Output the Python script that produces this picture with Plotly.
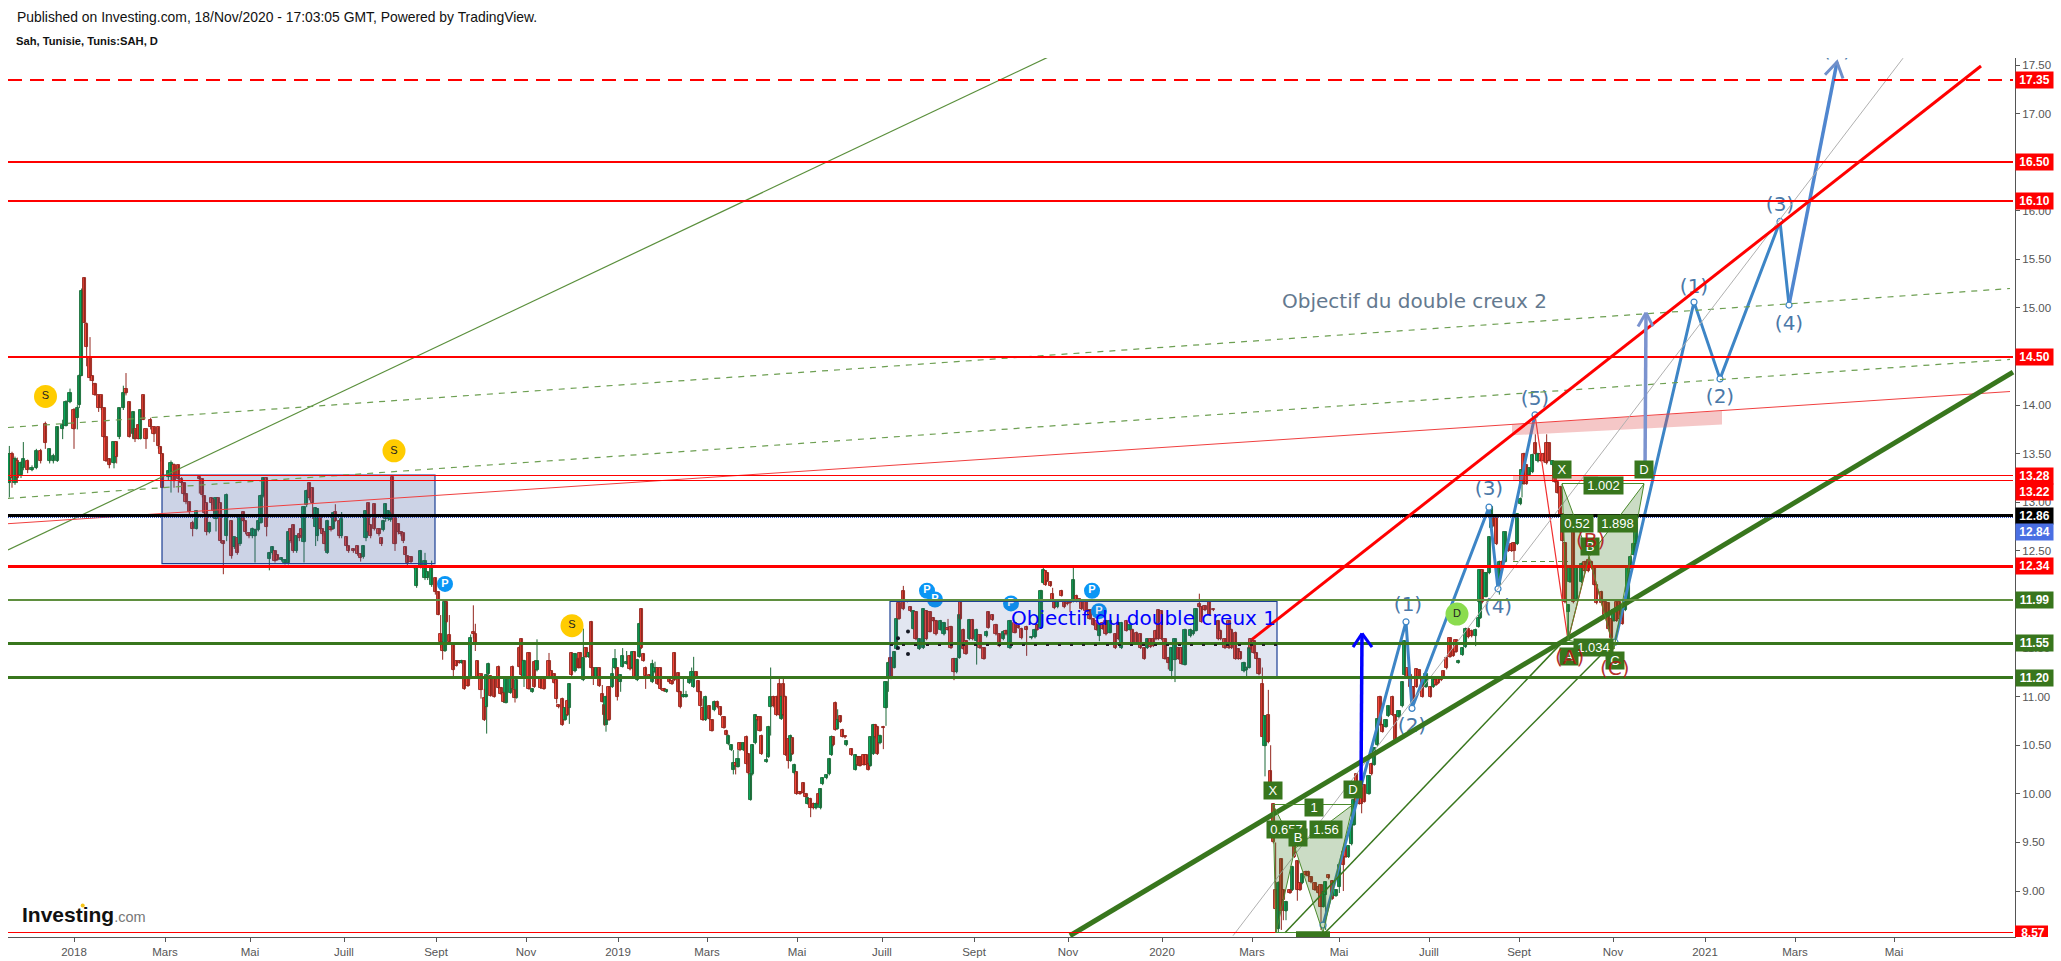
import plotly.graph_objects as go

# ---------- axes ----------
PRICE_RANGE = [8.527, 17.572]
POS_RANGE = [0, 2007]
price_ticks = [9, 9.5, 10, 10.5, 11, 11.5, 12, 12.5, 13, 13.5, 14, 14.5, 15, 15.5, 16, 16.5, 17, 17.5]
time_ticks = [66, 157, 242, 336, 428, 518, 610, 699, 789, 874, 966, 1060, 1154, 1244, 1331, 1421, 1511, 1605, 1697, 1787, 1886]
time_labels = ["2018", "Mars", "Mai", "Juill", "Sept", "Nov", "2019", "Mars", "Mai", "Juill", "Sept", "Nov", "2020", "Mars", "Mai", "Juill", "Sept", "Nov", "2021", "Mars", "Mai"]

# ---------- candles, in six stretches; time as read, origin + t / 3 on the time axis ----------
seg_origin = [-8, -8, 392, 872, 1232, 1392]

s1_t = [28,36,45,52,63,70,83,96,109,122,136,149,160,172,188,198,210,222,232,238,245,253,260,270,278,285,296,304,312,318,328,342,350,358,370,378,388,400,405,415,422,430,438,452,462,475,482,488]
s1_open = [13.20,13.50,13.20,13.42,13.28,13.35,13.42,13.33,13.35,13.53,
13.81,13.42,13.42,13.42,13.75,13.79,14.03,13.95,13.87,14.00,
14.30,15.31,14.83,14.50,14.30,14.22,14.10,14.10,13.97,13.67,
13.45,13.40,13.62,13.67,13.97,14.17,14.03,13.70,13.75,13.80,
13.65,14.10,13.75,13.85,13.77,13.77,13.57,13.50]
s1_high = [13.58,13.52,13.47,13.46,13.42,13.62,13.44,13.38,13.55,13.55,
13.83,13.55,13.50,13.78,13.85,14.05,14.17,13.97,14.00,14.32,
15.20,15.31,14.85,14.70,14.30,14.23,14.10,14.10,13.97,13.67,
13.45,13.62,13.62,13.97,14.20,14.33,14.03,13.93,13.75,13.80,
13.95,14.10,13.75,13.87,13.78,13.77,13.58,13.50]
s1_low = [13.05,13.15,13.18,13.20,13.25,13.33,13.30,13.32,13.34,13.40,
13.55,13.40,13.40,13.42,13.65,13.78,14.02,13.55,13.75,13.97,
14.30,14.85,14.40,14.25,14.20,14.10,13.93,13.95,13.67,13.42,
13.35,13.35,13.40,13.65,13.95,14.10,13.67,13.65,13.62,13.65,
13.65,13.85,13.55,13.75,13.62,13.55,13.42,13.15]
s1_close = [13.50,13.25,13.45,13.25,13.40,13.45,13.33,13.35,13.53,13.43,
13.61,13.55,13.48,13.77,13.80,14.03,14.13,13.75,13.97,14.30,
15.17,14.85,14.60,14.28,14.25,14.10,13.97,13.97,13.67,13.42,
13.38,13.62,13.47,13.97,14.13,14.12,13.67,13.93,13.65,13.65,
13.95,13.85,13.65,13.78,13.70,13.58,13.50,13.15]

s2_t = [505,513,522,535,545,552,558,568,578,590,598,607,613,620,628,635,642,648,655,662,670,680,695,703,712,720,730,737,747,757,765,775,783,790,800,808,817,825,833,845,855,865,873,880,890,898,905,912,920,928,938,947,953,961,968,975,982,993,1000,1006,1018,1025,1040,1046,1060,1073,1082,1090,1098,1105,1112,1123,1137,1145,1150,1157,1165,1172,1177,1185,1195,1203,1210,1217,1222,1233,1243,1250,1262,1275,1283,1295,1306]
s2_open = [13.26,13.26,13.38,13.38,13.24,13.20,13.09,13.00,12.79,12.73,
13.26,13.24,13.07,12.99,12.69,13.04,13.03,12.83,13.04,12.99,
12.60,12.65,12.81,12.54,12.63,12.57,12.90,12.81,12.68,12.65,
12.65,12.71,12.79,13.07,13.25,12.42,12.48,12.50,12.46,12.41,
12.38,12.38,12.73,12.77,12.50,12.67,12.73,12.59,12.97,13.20,
13.15,12.75,12.65,12.85,12.73,12.69,12.48,12.75,12.73,12.90,
12.81,12.65,12.64,12.55,12.52,12.55,12.47,12.44,12.63,12.99,
12.77,12.98,12.73,12.63,12.72,12.83,12.83,12.82,13.26,12.86,
12.78,12.69,12.68,12.54,12.45,12.44,12.32,12.14,12.33,12.22,
12.22,12.15,12.22]
s2_high = [13.33,13.43,13.40,13.38,13.26,13.20,13.09,13.00,12.81,12.92,
13.28,13.24,13.07,12.99,12.80,13.05,13.03,13.05,13.04,12.99,
12.60,13.09,12.81,12.64,12.63,12.86,12.90,12.81,12.68,12.74,
12.73,12.82,13.08,13.26,13.26,12.49,12.55,12.50,12.46,12.43,
12.41,12.70,12.73,12.77,12.65,12.67,12.73,12.96,13.13,13.20,
13.15,12.95,12.94,12.85,12.73,12.69,12.82,12.75,12.90,12.98,
12.81,12.90,12.64,12.55,12.52,12.55,12.47,12.56,12.92,12.99,
12.77,12.98,12.73,12.63,12.82,12.99,12.92,12.90,13.26,12.86,
12.78,12.69,12.68,12.54,12.45,12.44,12.34,12.34,12.51,12.48,
12.28,12.40,12.22]
s2_low = [13.22,13.10,13.15,13.10,13.18,13.07,12.98,12.88,12.65,12.72,
13.09,13.05,12.87,12.66,12.68,12.97,12.89,12.70,12.89,12.58,
12.26,12.60,12.42,12.52,12.46,12.55,12.80,12.67,12.63,12.63,
12.38,12.70,12.78,13.05,12.65,12.30,12.46,12.38,12.40,12.39,
12.36,12.36,12.58,12.48,12.48,12.60,12.63,12.38,12.95,13.02,
12.83,12.55,12.60,12.71,12.65,12.50,12.47,12.70,12.72,12.80,
12.63,12.63,12.53,12.48,12.48,12.45,12.39,12.42,12.60,12.66,
12.63,12.71,12.65,12.55,12.70,12.80,12.81,12.80,12.83,12.50,
12.67,12.65,12.58,12.44,12.34,12.37,12.31,12.12,12.32,12.20,
12.20,12.13,12.05]
s2_close = [13.32,13.40,13.22,13.24,13.20,13.09,13.00,12.90,12.73,12.91,
13.24,13.08,12.89,12.69,12.79,12.99,12.91,13.04,12.91,12.60,
12.57,13.08,12.45,12.64,12.48,12.85,12.81,12.69,12.65,12.73,
12.72,12.81,13.07,13.25,12.75,12.48,12.54,12.40,12.41,12.43,
12.41,12.69,12.60,12.50,12.65,12.63,12.65,12.95,13.12,13.04,
12.99,12.94,12.93,12.73,12.67,12.57,12.81,12.72,12.89,12.81,
12.65,12.83,12.55,12.50,12.50,12.47,12.43,12.55,12.91,12.69,
12.65,12.73,12.67,12.57,12.81,12.98,12.91,12.89,12.85,12.57,
12.69,12.67,12.60,12.46,12.38,12.39,12.34,12.33,12.50,12.40,
12.28,12.34,12.08]

s3_t = [115,122,128,135,140,148,160,170,178,185,193,204,212,220,226,233,243,253,260,265,272,283,296,303,312,318,332,338,345,350,358,364,372,387,397,403,411,422,432,447,455,463,470,476,487,495,503,508,515,525,535,540,550,558,566,574,580,590,598,607,613,618,627,637,645,652,662,668,680,690,697,704,712,718,724,731,737,748,757,765,772,782,792,800,808,816,824,835,841,850,858,868,875,881,889,895,902,909,917,928,936,943,952,962,972,979,985,994,1000,1007,1014,1020,1030,1040,1045,1052,1058,1066,1073,1080,1085,1100,1106,1112,1120,1130,1138,1144,1150,1157,1165,1172,1178,1183,1190,1200,1210,1218,1223,1232,1240,1248,1255,1262,1268,1280,1288,1295,1300,1306,1313,1321,1328,1335,1339,1355,1367,1374,1380,1392,1400,1405,1412,1420,1426,1432,1440,1450,1458,1465,1473,1483,1490,1497]
s3_open = [12.08,11.65,11.56,11.47,11.97,11.63,11.55,11.37,11.37,11.35,
11.37,11.19,11.19,11.66,11.65,11.37,11.23,10.99,10.89,11.23,
11.21,11.19,11.31,11.09,11.04,10.94,11.04,11.31,11.07,10.99,
11.50,11.59,11.19,11.45,11.05,11.36,11.27,11.19,11.19,11.37,
11.26,11.23,11.17,10.91,10.98,10.76,10.96,10.88,11.45,11.26,
11.39,11.45,11.17,11.50,11.41,11.77,11.29,11.20,11.29,11.03,
10.91,10.71,11.10,11.10,11.29,11.29,11.15,11.31,11.34,11.42,
11.29,11.46,11.17,11.41,11.90,11.44,11.30,11.22,11.15,11.25,
11.29,11.29,11.08,11.05,11.20,11.16,11.45,11.24,11.05,11.00,
11.00,11.14,11.17,11.10,11.25,11.16,11.05,10.88,10.76,10.90,
10.76,10.86,10.95,10.89,10.79,10.65,10.51,10.45,10.25,10.32,
10.28,10.52,10.45,10.59,10.41,9.94,10.20,10.52,10.79,10.79,
10.60,10.33,10.38,10.89,11.00,11.00,11.13,10.77,11.13,11.00,
10.56,10.34,10.57,10.21,10.22,10.02,10.11,10.00,9.90,9.95,
9.90,9.85,10.00,9.85,10.10,10.16,10.20,10.40,10.58,10.94,
10.67,10.80,10.66,10.59,10.50,10.46,10.25,10.38,10.38,10.40,
10.40,10.31,10.29,10.41,10.71,10.69,10.52,10.69,10.88,11.20,
11.40,11.30,11.49,11.96]
s3_high = [12.08,11.84,11.56,11.98,11.97,11.84,11.55,11.37,11.37,11.38,
11.37,11.20,11.64,11.94,11.75,11.37,11.23,11.08,11.23,11.35,
11.22,11.19,11.32,11.10,11.05,11.20,11.20,11.32,11.08,11.18,
11.52,11.60,11.38,11.46,11.09,11.37,11.59,11.20,11.20,11.45,
11.27,11.24,11.18,10.92,10.99,10.89,10.97,11.14,11.46,11.45,
11.40,11.46,11.70,11.51,11.46,11.78,11.30,11.30,11.30,11.12,
10.92,11.01,11.11,11.30,11.49,11.30,11.23,11.50,11.47,11.43,
11.47,11.47,11.39,11.76,11.91,11.45,11.31,11.23,11.38,11.36,
11.30,11.30,11.09,11.08,11.21,11.17,11.46,11.25,11.06,11.20,
11.06,11.21,11.30,11.41,11.26,11.17,11.06,10.98,11.01,10.91,
10.77,10.96,10.96,10.90,10.80,10.66,10.61,10.51,10.45,10.33,
10.45,10.53,10.53,10.60,10.42,10.21,10.51,10.82,10.80,10.80,
10.61,10.42,10.70,11.30,11.01,11.01,11.20,11.01,11.20,11.01,
10.57,10.61,10.58,10.31,10.23,10.03,10.12,10.01,9.97,9.96,
9.91,9.91,10.01,10.06,10.17,10.20,10.37,10.60,10.59,10.95,
10.87,10.81,10.67,10.60,10.55,10.47,10.41,10.39,10.39,10.41,
10.41,10.32,10.59,10.72,10.72,10.70,10.61,10.70,11.16,11.36,
11.41,11.47,11.81,11.97]
s3_low = [11.84,11.50,11.38,11.46,11.76,11.55,11.20,11.31,11.34,11.34,
11.07,11.10,11.18,11.60,11.47,11.19,10.98,10.75,10.62,11.22,
11.00,10.99,11.08,11.02,10.94,10.93,11.03,11.07,10.94,10.98,
11.30,11.21,11.10,11.07,11.04,11.09,11.26,11.08,11.07,11.18,
11.18,11.13,10.93,10.88,10.70,10.75,10.80,10.72,11.21,11.25,
11.29,11.29,11.16,11.40,11.40,11.29,11.12,11.19,11.10,10.94,
10.70,10.64,10.75,11.09,11.28,10.96,11.05,11.30,11.33,11.27,
11.28,11.19,11.16,11.40,11.49,11.36,11.08,11.19,11.14,11.24,
11.12,11.07,11.05,11.04,11.14,11.12,11.16,11.04,10.88,10.99,
10.99,11.13,11.16,11.09,11.19,11.04,10.89,10.75,10.75,10.76,
10.64,10.85,10.88,10.80,10.67,10.60,10.50,10.44,10.20,10.20,
10.27,10.44,10.44,10.30,10.20,9.93,10.19,10.51,10.75,10.64,
10.40,10.32,10.37,10.60,10.89,10.80,10.80,10.76,10.80,10.39,
10.26,10.33,10.40,10.20,9.99,9.99,10.00,9.96,9.89,9.76,
9.84,9.84,9.89,9.84,10.09,10.15,10.19,10.39,10.49,10.65,
10.66,10.73,10.58,10.57,10.49,10.39,10.24,10.29,10.28,10.29,
10.29,10.24,10.28,10.40,10.57,10.40,10.51,10.46,10.70,11.05,
11.18,11.29,11.48,11.79]
s3_close = [11.84,11.56,11.47,11.97,11.77,11.56,11.27,11.32,11.35,11.37,
11.08,11.11,11.60,11.65,11.55,11.20,11.07,10.76,11.22,11.34,
11.01,11.00,11.09,11.03,10.95,11.19,11.19,11.08,10.99,11.17,
11.31,11.22,11.37,11.08,11.08,11.10,11.37,11.09,11.08,11.19,
11.19,11.14,10.98,10.89,10.71,10.88,10.81,11.13,11.22,11.44,
11.30,11.30,11.40,11.41,11.45,11.30,11.19,11.29,11.11,10.95,
10.81,11.00,10.76,11.23,11.39,11.00,11.22,11.42,11.36,11.28,
11.46,11.20,11.38,11.75,11.50,11.37,11.21,11.20,11.34,11.30,
11.13,11.08,11.06,11.07,11.15,11.13,11.17,11.05,10.89,11.02,
11.02,11.20,11.25,11.25,11.20,11.05,10.90,10.76,11.00,10.77,
10.65,10.95,10.89,10.81,10.68,10.61,10.60,10.50,10.32,10.29,
10.36,10.45,10.52,10.31,10.21,10.20,10.50,10.81,10.76,10.65,
10.41,10.35,10.69,11.00,10.90,10.81,10.81,11.00,10.81,10.40,
10.34,10.60,10.41,10.30,10.00,10.00,10.01,9.97,9.96,9.85,
9.85,9.90,9.90,10.05,10.16,10.19,10.36,10.59,10.50,10.66,
10.76,10.74,10.59,10.58,10.54,10.40,10.40,10.30,10.29,10.30,
10.30,10.25,10.58,10.71,10.58,10.41,10.60,10.68,11.15,11.35,
11.19,11.46,11.80,11.80]

s4_t = [70,82,92,100,108,118,130,140,150,160,168,182,192,204,213,222,230,238,242,250,258,268,278,290,300,312,320,325,338,348,358,370,378,390,405,415,425,440,455,465,472,483,490,497,503,512,518,523,533,545,553,562,570,580,590,598,605,618,630,640,650,658,668,678,690,706,715,725,740,750,758,770,782,793,802,812,820,828,835,845,855,865,875,885,895,905,915,932,940,948,958,965,975,988,1000,1015,1022,1035,1047,1055,1067,1075,1082,1092,1100,1108,1113,1122,1130,1137,1147,1155,1165,1172]
s4_open = [12.09,11.99,11.92,11.70,11.87,11.49,11.50,11.88,11.87,11.81,
11.78,11.69,11.64,11.70,11.72,11.39,11.25,11.40,11.98,11.69,
11.57,11.59,11.79,11.57,11.63,11.50,11.62,11.87,11.84,11.74,
11.64,11.59,11.68,11.50,11.76,11.73,11.70,11.72,11.60,11.61,
11.74,11.71,12.17,12.29,12.27,12.18,12.06,11.99,11.92,12.09,
11.99,11.98,11.98,11.98,12.04,12.00,11.98,11.98,11.89,11.80,
11.78,11.62,11.76,11.78,11.66,11.64,11.76,11.50,11.78,11.69,
11.69,11.66,11.64,11.50,11.50,11.59,11.59,11.68,11.89,11.88,
11.59,11.40,11.26,11.38,11.50,11.50,11.33,11.62,11.64,11.68,
11.95,11.92,11.93,11.98,11.90,11.78,11.68,11.59,11.78,11.69,
11.66,11.49,11.46,11.26,11.27,11.30,11.59,11.57,11.45,11.39,
11.13,10.49,10.81,10.24]
s4_high = [12.14,12.00,11.93,11.89,11.88,11.60,11.91,11.89,11.88,11.82,
11.79,11.79,11.77,11.80,11.73,11.40,11.40,11.85,11.99,11.70,
11.58,11.80,11.80,11.70,11.64,11.51,11.68,11.88,11.85,11.75,
11.65,11.68,11.69,11.79,11.77,11.74,11.71,11.73,11.62,11.70,
11.75,12.10,12.33,12.30,12.28,12.19,12.12,12.00,12.00,12.10,
12.00,11.99,11.99,12.34,12.05,12.01,11.99,11.99,11.90,11.81,
11.79,11.75,11.77,11.79,11.79,11.65,11.77,11.77,11.79,11.75,
11.70,11.67,11.65,11.51,11.60,11.60,11.60,11.69,11.90,11.89,
11.60,11.41,11.51,11.60,11.51,11.51,11.70,11.70,11.69,11.91,
12.06,11.93,11.94,11.99,11.91,11.79,11.69,11.60,11.79,11.70,
11.67,11.50,11.47,11.36,11.31,11.51,11.60,11.58,11.46,11.40,
11.30,10.81,11.07,10.50]
s4_low = [11.89,11.97,11.87,11.69,11.58,11.48,11.49,11.58,11.66,11.77,
11.63,11.68,11.63,11.68,11.49,11.17,11.24,11.39,11.79,11.48,
11.43,11.58,11.58,11.33,11.49,11.38,11.61,11.70,11.78,11.63,
11.51,11.58,11.63,11.49,11.65,11.70,11.59,11.42,11.59,11.60,
11.68,11.70,12.16,12.14,12.18,12.13,11.98,11.90,11.91,12.03,
11.91,11.94,11.87,11.97,11.97,11.97,11.89,11.87,11.79,11.73,
11.68,11.57,11.69,11.63,11.65,11.49,11.58,11.49,11.67,11.68,
11.54,11.54,11.49,11.38,11.49,11.50,11.51,11.58,11.58,11.58,
11.38,11.28,11.18,11.15,11.38,11.33,11.32,11.61,11.63,11.67,
11.91,11.76,11.88,11.83,11.88,11.58,11.58,11.49,11.49,11.49,
11.38,11.38,11.38,11.25,11.20,11.29,11.48,11.44,11.38,11.22,
10.59,10.18,10.52,9.96]
s4_close = [11.90,11.98,11.88,11.88,11.59,11.59,11.90,11.59,11.67,11.78,
11.64,11.78,11.76,11.69,11.50,11.25,11.39,11.84,11.80,11.49,
11.44,11.79,11.59,11.69,11.50,11.39,11.67,11.71,11.79,11.64,
11.52,11.67,11.64,11.78,11.66,11.71,11.60,11.69,11.61,11.69,
11.69,12.09,12.30,12.15,12.19,12.14,11.99,11.91,11.99,12.04,
11.92,11.95,11.96,12.20,11.98,11.98,11.90,11.88,11.80,11.74,
11.69,11.74,11.70,11.64,11.78,11.50,11.59,11.76,11.68,11.74,
11.55,11.55,11.50,11.39,11.59,11.51,11.52,11.59,11.59,11.59,
11.39,11.35,11.50,11.59,11.39,11.34,11.69,11.69,11.68,11.90,
11.92,11.77,11.89,11.84,11.89,11.59,11.59,11.50,11.50,11.50,
11.39,11.39,11.39,11.35,11.30,11.50,11.49,11.45,11.39,11.23,
10.59,10.80,10.53,9.97]

s5_t = [100,107,115,124,130,138,150,157,163,172,180,187,198,205,213,225,235,243,250,257,266,277,288,298,310,318,326,335,342,350,358,365,373,387,395,403,412,420,428,438,445,458,466,477,487,494,503,512,520,530,537,548,558,572,580,588,596,604,610,620,630,640,648,655,668,677,685,695,707,716,722]
s5_open = [9.90,9.01,8.61,9.33,9.01,8.79,9.01,9.01,9.49,9.31,
9.08,9.08,9.20,9.20,9.14,9.08,9.04,9.06,8.84,8.96,
9.16,9.10,8.95,9.04,9.40,9.44,9.35,9.48,9.68,10.20,
10.08,10.07,10.09,10.00,10.31,10.30,10.50,11.00,10.71,10.69,
10.80,11.00,10.81,10.79,10.90,11.22,11.29,11.22,11.10,11.28,
11.27,11.19,11.10,11.10,11.10,11.17,11.19,11.20,11.26,11.40,
11.60,11.48,11.58,11.35,11.43,11.51,11.70,11.68,11.62,11.72,
11.81]
s5_high = [9.90,9.50,9.10,9.33,9.02,8.90,9.02,9.26,9.50,9.32,
9.09,9.19,9.21,9.21,9.15,9.09,9.05,9.07,9.00,9.10,
9.17,9.11,9.02,9.28,9.41,9.45,9.47,9.69,9.95,10.21,
10.09,10.08,10.10,10.19,10.32,10.48,10.78,11.01,10.72,10.77,
10.91,11.01,10.82,10.86,11.16,11.58,11.30,11.23,11.11,11.29,
11.28,11.20,11.24,11.11,11.21,11.18,11.20,11.21,11.27,11.41,
11.61,11.49,11.59,11.38,11.51,11.71,11.71,11.69,11.70,11.82,
12.01]
s5_low = [9.49,8.57,8.57,8.60,8.70,8.70,8.97,9.00,9.34,8.90,
9.00,9.07,9.15,9.14,9.08,9.00,8.97,8.60,8.83,8.60,
9.12,8.91,8.94,8.98,9.00,9.34,9.34,9.47,9.67,9.91,
9.89,9.80,9.91,9.99,10.19,10.29,10.49,10.70,10.63,10.68,
10.79,10.80,10.54,10.78,10.89,11.21,11.19,11.09,10.91,11.09,
11.18,10.99,11.09,10.99,11.09,11.11,11.13,11.16,11.19,11.28,
11.40,11.41,11.45,11.34,11.42,11.50,11.60,11.61,11.52,11.71,
11.80]
s5_close = [9.50,8.82,9.08,8.79,8.91,8.89,8.98,9.25,9.35,9.01,
9.01,9.18,9.16,9.15,9.09,9.01,8.98,8.84,8.99,9.09,
9.13,8.92,9.01,9.27,9.27,9.35,9.46,9.68,9.94,9.92,
9.90,9.90,9.92,10.18,10.20,10.47,10.77,10.71,10.64,10.76,
10.90,10.81,10.55,10.85,11.15,11.57,11.20,11.10,10.92,11.10,
11.19,11.00,11.23,11.00,11.20,11.12,11.14,11.17,11.20,11.29,
11.41,11.42,11.46,11.37,11.50,11.70,11.61,11.62,11.69,11.81,
12.00]

s6_t = [240,247,258,268,275,280,290,298,305,315,325,335,342,352,362,366,372,380,388,398,406,414,422,432,440,447,458,465,472,482,488,495,505,510,520,530,545,555,565,575,583,590,605,615,625,635,642,650,658,668,676,684,692,702,708]
s6_open = [11.97,12.30,12.03,12.27,12.74,12.86,12.84,12.15,12.39,12.39,
12.55,12.57,12.58,12.57,12.98,13.19,13.50,13.38,13.28,13.31,
13.61,13.42,13.50,13.50,13.61,13.61,13.38,13.40,13.21,13.16,
12.88,12.58,11.87,12.18,12.74,12.01,12.18,12.39,12.41,12.39,
12.32,12.15,12.08,11.97,11.96,11.80,11.78,11.97,11.97,11.90,
11.89,11.96,12.32,12.46,12.57]
s6_high = [12.31,12.31,12.28,12.65,12.96,12.87,12.85,12.40,12.40,12.70,
12.56,12.58,12.59,12.89,13.05,13.34,13.51,13.39,13.36,13.50,
13.70,13.51,13.51,13.51,13.70,13.62,13.43,13.41,13.22,13.17,
12.89,12.59,11.95,12.35,12.75,12.33,12.38,12.40,12.42,12.40,
12.33,12.16,12.09,11.98,11.97,11.81,11.90,11.98,11.98,11.91,
11.97,12.35,12.45,12.58,12.85]
s6_low = [11.96,11.96,12.02,12.26,12.73,12.75,12.56,12.05,12.28,12.38,
12.49,12.49,12.40,12.56,12.97,13.05,13.18,13.18,13.27,13.30,
13.49,13.41,13.42,13.41,13.39,13.42,13.37,13.20,13.09,12.85,
12.59,11.96,11.60,12.17,11.96,12.00,12.17,12.28,12.28,12.31,
12.14,11.95,11.95,11.83,11.69,11.50,11.77,11.77,11.79,11.74,
11.88,11.95,12.31,12.45,12.56]
s6_close = [12.30,11.97,12.27,12.64,12.95,12.76,12.57,12.39,12.29,12.69,
12.50,12.50,12.50,12.88,13.03,13.33,13.19,13.19,13.35,13.49,
13.50,13.50,13.43,13.42,13.40,13.43,13.42,13.21,13.10,12.86,
12.60,11.97,11.94,12.34,11.97,12.32,12.37,12.29,12.29,12.32,
12.15,11.96,11.96,11.84,11.70,11.60,11.89,11.78,11.80,11.75,
11.96,12.34,12.44,12.57,12.84]

# ---------- horizontal levels ----------
level_prices = [17.35, 16.50, 16.10, 14.50, 13.28, 13.22, 12.86, 12.34, 11.99, 11.55, 11.20, 8.57]
level_colors = ["#ff0000", "#ff0000", "#ff0000", "#ff0000", "#ff0000", "#ff0000", "#000000", "#ff0000", "#5f8f3f", "#38761d", "#38761d", "#ff0000"]
level_widths = [2, 2, 2, 2, 1, 1, 3, 3, 2, 3, 3, 1]
last_price = 12.84

# right-hand price tags: text, colour, shift off the level, in screen pixels
tag_prices = [17.35, 16.50, 16.10, 14.50, 13.28, 13.22, 12.86, 12.84, 12.34, 11.99, 11.55, 11.20]
tag_colors = ["#ff0000", "#ff0000", "#ff0000", "#ff0000", "#ff0000", "#ff0000", "#000000", "#4a6fe3", "#ff0000", "#38761d", "#38761d", "#38761d"]
tag_shift = [0, 0, 0, 0, -1, -11, 0, -14, 0, 0, 0, -1]

# ---------- trend lines (time, price) ----------
thin_green = [(0, 12.51), (1042, 17.59)]
dash_upper = [(0, 13.77), (2002, 15.20)]
dash_lower = [(0, 13.04), (2002, 14.47)]
thin_red = [(0, 12.78), (2002, 14.14)]
thick_red = [(1244, 11.59), (1973, 17.49)]
thick_green = [(1062, 8.54), (2005, 14.34)]
chan_a = [(1277, 8.57), (1558, 11.60)]
chan_b = [(1317, 8.57), (1595, 11.45)]
gray_line = [(1225, 8.54), (1895, 17.57)]

wave1_x = [1315, 1398, 1404, 1481, 1490, 1527]
wave1_y = [8.65, 11.77, 10.88, 12.95, 12.11, 13.90]
wave2_x = [1607, 1686, 1712, 1772, 1781]
wave2_y = [11.56, 15.06, 14.27, 15.89, 15.03]
wave2_tip = (1829, 17.53)
wave2_barbs = [(1817, 17.40), (1835, 17.36)]
wave_label_x = [1400, 1404, 1481, 1490, 1527, 1686, 1712, 1772, 1781]
wave_label_y = [11.93, 10.69, 13.13, 11.91, 14.05, 15.21, 14.07, 16.05, 14.82]
wave_label_t = ["(1)", "(2)", "(3)", "(4)", "(5)", "(1)", "(2)", "(3)", "(4)"]
wave_top_label = (1829, 17.53, "(5)")

arrow1 = [(1353, 10.09), (1354, 11.65)]
arrow1_barbs = [(1345, 11.51), (1364, 11.51)]
arrow2 = [(1637, 13.30), (1638, 14.95)]
arrow2_barbs = [(1630, 14.81), (1645, 14.81)]

# ---------- harmonic patterns (X, A, B, C, D) ----------
pat1 = [(1265, 9.89), (1268, 8.57), (1287, 9.44), (1315, 8.57), (1345, 9.89)]
pat2 = [(1554, 13.19), (1560, 11.58), (1581, 12.44), (1606, 11.49), (1636, 13.19)]
abc_line_x = [1527, 1560, 1581, 1606]
abc_line_y = [13.90, 11.58, 12.44, 11.49]
box_x = [1265, 1345, 1306, 1278, 1318, 1290, 1554, 1569, 1582, 1561, 1585, 1607, 1636, 1595, 1609]
box_y = [10.03, 10.04, 9.86, 9.63, 9.63, 9.55, 13.34, 12.78, 12.55, 11.41, 11.51, 11.37, 13.34, 13.17, 12.78]
box_t = ["X", "D", "1", "0.657", "1.56", "B", "X", "0.52", "B", "A", "1.034", "C", "D", "1.002", "1.898"]
abc_x = [1561, 1582, 1607]
abc_y = [11.41, 12.61, 11.29]
abc_t = ["(A)", "(B)", "(C)"]

# ---------- rectangles ----------
rect1 = (154, 427, 12.37, 13.28)
rect2 = (882, 1269, 11.20, 11.98)
pink_rect = (1505, 1590, 13.22, 13.28)
pink_band = [(1504, 13.80), (1714, 13.94), (1714, 13.80), (1504, 13.69)]

# ---------- badges ----------
s_x, s_y = [37.5, 386, 564], [14.09, 13.53, 11.73]
p_x, p_y = [437, 919, 927, 1003, 1084, 1091], [12.16, 12.09, 12.00, 11.96, 12.09, 11.88]
d_x, d_y = [1449], [11.85]
dot_x, dot_y = [890, 890, 900, 900], [11.60, 11.50, 11.67, 11.44]
logo_dot = (74.7, 8.85)

# ---------- figure ----------
x_all, o_all, h_all, l_all, c_all = [], [], [], [], []
segs = [(s1_t, s1_open, s1_high, s1_low, s1_close), (s2_t, s2_open, s2_high, s2_low, s2_close),
        (s3_t, s3_open, s3_high, s3_low, s3_close), (s4_t, s4_open, s4_high, s4_low, s4_close),
        (s5_t, s5_open, s5_high, s5_low, s5_close), (s6_t, s6_open, s6_high, s6_low, s6_close)]
for org, (t, o, h, l, c) in zip(seg_origin, segs):
    assert len(t) == len(o) == len(h) == len(l) == len(c), (org, len(t), len(o), len(h), len(l), len(c))
    x_all += [org + v / 3 for v in t]
    o_all += o; h_all += h; l_all += l; c_all += c

UP_FILL, UP_EDGE, DN_FILL, DN_EDGE = "#07ad5f", "#1c6a38", "#fb4a3c", "#93261e"
fig = go.Figure()
fig.add_trace(go.Candlestick(
    x=x_all, open=o_all, high=h_all, low=l_all, close=c_all, whiskerwidth=0,
    increasing=dict(fillcolor=UP_FILL, line=dict(color=UP_EDGE, width=1)),
    decreasing=dict(fillcolor=DN_FILL, line=dict(color=DN_EDGE, width=1)),
    showlegend=False, hoverinfo="skip"))
# the candle bodies are wider than the trace's own spacing rule allows, so they are laid on top as bars
fig.add_trace(go.Bar(
    x=x_all, base=[min(o, c) for o, c in zip(o_all, c_all)], y=[max(abs(c - o), 0.012) for o, c in zip(o_all, c_all)],
    width=3.1, showlegend=False, hoverinfo="skip",
    marker=dict(color=[UP_FILL if c >= o else DN_FILL for o, c in zip(o_all, c_all)],
                line=dict(color=[UP_EDGE if c >= o else DN_EDGE for o, c in zip(o_all, c_all)], width=0.9))))


def line_trace(pts, color, width, dash=None):
    fig.add_trace(go.Scatter(x=[p[0] for p in pts], y=[p[1] for p in pts], mode="lines",
                             line=dict(color=color, width=width, dash=dash), showlegend=False, hoverinfo="skip"))


shapes = []


def seg(pts, color, width, dash=None):
    (x0, y0), (x1, y1) = pts
    shapes.append(dict(type="line", xref="x", yref="y", x0=x0, y0=y0, x1=x1, y1=y1, layer="above",
                       line=dict(color=color, width=width, dash=dash)))


def poly(pts, fill, color=None, width=0):
    path = "M " + " L ".join(f"{x},{y}" for x, y in pts) + " Z"
    shapes.append(dict(type="path", path=path, xref="x", yref="y", layer="above", fillcolor=fill,
                       line=dict(color=color or "rgba(0,0,0,0)", width=width)))


def rect(r, fill, color=None, width=0):
    shapes.append(dict(type="rect", xref="x", yref="y", x0=r[0], x1=r[1], y0=r[2], y1=r[3], layer="above",
                       fillcolor=fill, line=dict(color=color or "rgba(0,0,0,0)", width=width)))


rect(rect1, "rgba(50,80,155,0.25)", "#1c3f94", 1.2)
rect(rect2, "rgba(50,80,155,0.14)", "#1c3f94", 1.2)
rect(pink_rect, "rgba(225,80,80,0.32)")
poly(pink_band, "rgba(225,80,80,0.32)")

seg(thin_green, "#5a8f3c", 1.2)
seg(dash_upper, "#6d9f52", 1.2, "6px,6px")
seg(dash_lower, "#6d9f52", 1.2, "6px,6px")
seg(thin_red, "#f04040", 1)
seg(gray_line, "#b0b0b0", 1)
seg(chan_a, "#38761d", 1.5)
seg(chan_b, "#38761d", 1.5)
seg(thick_green, "#38761d", 5)

for pr, col, w in zip(level_prices, level_colors, level_widths):
    dash = "14px,8px" if pr == 17.35 else None
    seg([(POS_RANGE[0], pr), (POS_RANGE[1] - 2, pr)], col, w, dash)
seg([(POS_RANGE[0], last_price), (POS_RANGE[1] - 2, last_price)], "#3050c8", 1, "1px,1px")
seg([(882, 11.53), (1269, 11.53)], "#222222", 2, "3px,9px")
seg([(1505, 12.39), (1560, 12.39)], "#5a8f3c", 1.2, "5px,4px")
seg(thick_red, "#ff0000", 3)

for pat in (pat1, pat2):
    X, A, B, C, D = pat
    poly([X, A, B], "rgba(56,118,29,0.26)", "#4b8a2c", 1)
    poly([B, C, D], "rgba(56,118,29,0.26)", "#4b8a2c", 1)
    seg([X, D], "#4b8a2c", 1)
    seg([A, C], "#4b8a2c", 1)
rect((1288, 1322, PRICE_RANGE[0], 8.585), "#38761d")

# wave paths sit under their pivot circles
line_trace(list(zip(wave1_x, wave1_y)), "#3d85c6", 3)
line_trace(list(zip(wave2_x, wave2_y)), "#3d85c6", 3)
line_trace([(wave2_x[-1], wave2_y[-1]), wave2_tip], "#4f86cf", 3.5)
line_trace([wave2_barbs[0], wave2_tip, wave2_barbs[1]], "#6f8fca", 3)
line_trace(list(zip(abc_line_x, abc_line_y)), "#f03030", 1.2)

seg(arrow1, "#0000ff", 3.5)
seg([arrow1_barbs[0], arrow1[1]], "#0000ff", 3)
seg([arrow1_barbs[1], arrow1[1]], "#0000ff", 3)
seg(arrow2, "#7b93cf", 3.5)
seg([arrow2_barbs[0], arrow2[1]], "#7b93cf", 3)
seg([arrow2_barbs[1], arrow2[1]], "#7b93cf", 3)

# 8.57 tag is cut by the axis, so it is a shape with its text on top
shapes.append(dict(type="rect", xref="paper", yref="y", x0=1, x1=1 + 33 / 2007, y0=PRICE_RANGE[0], y1=8.645,
                   fillcolor="#ff0000", line=dict(width=0), layer="above"))

annots = []


def px_ann(text, px, py, **kw):
    annots.append(dict(text=text, xref="paper", yref="paper", x=(px - 8) / 2007, y=1 - (py - 58) / 879,
                       showarrow=False, **kw))


px_ann("Published on Investing.com, 18/Nov/2020 - 17:03:05 GMT, Powered by TradingView.", 15, 17,
       xanchor="left", yanchor="middle", font=dict(family="Liberation Sans", size=13.9, color="#111111"))
px_ann("<b>Sah, Tunisie, Tunis:SAH, D</b>", 14, 41, xanchor="left", yanchor="middle",
       font=dict(family="Liberation Sans", size=11.2, color="#111111"))
px_ann("<b>Investing</b><span style='color:#777777;font-size:14.5px'>.com</span>", 20, 914, xanchor="left",
       yanchor="middle", font=dict(family="Liberation Sans", size=21, color="#111111"))

for pr, col, sh in zip(tag_prices, tag_colors, tag_shift):
    annots.append(dict(text=f"<b>{pr:.2f}</b>", xref="paper", yref="y", x=1, y=pr, yshift=sh, xanchor="left",
                       yanchor="middle", showarrow=False, bgcolor=col, width=37, height=16, align="center",
                       borderpad=0, font=dict(family="Liberation Sans", size=12, color="white")))
annots.append(dict(text="<b>8.57</b>", xref="paper", yref="y", x=1, y=8.57, xanchor="left", yanchor="middle",
                   showarrow=False, width=32, align="center", font=dict(family="Liberation Sans", size=12, color="white")))

for x, y, t in zip(box_x, box_y, box_t):
    annots.append(dict(text=t, x=x, y=y, xref="x", yref="y", showarrow=False, bgcolor="#38761d", borderpad=1,
                       width=max(16, 7 * len(t) + 2), height=15, align="center",
                       font=dict(family="Liberation Sans", size=13, color="white")))
for x, y, t in zip(abc_x, abc_y, abc_t):
    annots.append(dict(text=t, x=x, y=y, xref="x", yref="y", showarrow=False,
                       font=dict(family="DejaVu Sans", size=20, color="rgba(175,20,20,0.9)")))
annots.append(dict(text="Objectif du double creux 2", x=1406, y=15.07, xref="x", yref="y", showarrow=False,
                   font=dict(family="DejaVu Sans", size=20, color="#64798f")))
annots.append(dict(text="Objectif du double creux 1", x=1135, y=11.81, xref="x", yref="y", showarrow=False,
                   font=dict(family="DejaVu Sans", size=20, color="#0000ff")))

# circles at the wave pivots and badges
fig.add_trace(go.Scatter(x=wave1_x + wave2_x, y=wave1_y + wave2_y, mode="markers", showlegend=False, hoverinfo="skip",
                         marker=dict(color="white", size=6, line=dict(color="#3d85c6", width=1.2))))
fig.add_trace(go.Scatter(x=wave_label_x, y=wave_label_y, text=wave_label_t, mode="text", showlegend=False, hoverinfo="skip",
                         textfont=dict(family="DejaVu Sans", size=20, color="#4a78a8"), cliponaxis=True))
fig.add_trace(go.Scatter(x=[wave_top_label[0]], y=[wave_top_label[1]], text=[wave_top_label[2]], mode="text",
                         textposition="top center", showlegend=False, hoverinfo="skip",
                         textfont=dict(family="DejaVu Sans", size=20, color="#4a78a8"), cliponaxis=True))
fig.add_trace(go.Scatter(x=s_x, y=s_y, text=["S"] * 3, mode="markers+text", textposition="middle center",
                         marker=dict(color="#ffcc00", size=23), textfont=dict(family="Liberation Sans", size=11, color="#222"),
                         showlegend=False, hoverinfo="skip"))
fig.add_trace(go.Scatter(x=p_x, y=p_y, text=["<b>P</b>"] * 6, mode="markers+text", textposition="middle center",
                         marker=dict(color="#0a96f5", size=16), textfont=dict(family="Liberation Sans", size=11, color="white"),
                         showlegend=False, hoverinfo="skip"))
fig.add_trace(go.Scatter(x=d_x, y=d_y, text=["D"], mode="markers+text", textposition="middle center",
                         marker=dict(color="#8bdc4f", size=23), textfont=dict(family="Liberation Sans", size=11, color="#222"),
                         showlegend=False, hoverinfo="skip"))
fig.add_trace(go.Scatter(x=dot_x, y=dot_y, mode="markers", marker=dict(color="#111", size=4), showlegend=False, hoverinfo="skip"))
fig.add_trace(go.Scatter(x=[logo_dot[0]], y=[logo_dot[1]], mode="markers", marker=dict(color="#f5c518", size=4), showlegend=False, hoverinfo="skip"))

fig.update_layout(
    width=2061, height=961, margin=dict(l=8, r=46, t=58, b=24, autoexpand=False),
    paper_bgcolor="white", plot_bgcolor="white", shapes=shapes, annotations=annots,
    barmode="overlay", bargap=0, showlegend=False,
    font=dict(family="Liberation Sans", color="#555555", size=11),
    xaxis=dict(range=POS_RANGE, tickvals=time_ticks, ticktext=time_labels, ticks="outside", ticklen=4, tickcolor="#555555",
               showline=True, linecolor="#555555", linewidth=1, showgrid=False, zeroline=False, rangeslider=dict(visible=False),
               tickfont=dict(family="Liberation Sans", size=11.5, color="#555555")),
    yaxis=dict(range=PRICE_RANGE, side="right", tickvals=price_ticks, tickformat=".2f", ticks="outside", ticklen=4, tickcolor="#555555",
               showline=True, linecolor="#555555", linewidth=1, showgrid=False, zeroline=False,
               tickfont=dict(family="Liberation Sans", size=11.5, color="#555555")),
)

crisp = """
document.body.style.margin='0';
function crispLevels(){
  document.querySelectorAll('.shapelayer path').forEach(function(p){
    var m=(p.getAttribute('d')||'').match(/^M([\\d.\\-]+),([\\d.\\-]+)L([\\d.\\-]+),([\\d.\\-]+)$/);
    if(m && m[2]===m[4]){p.style.shapeRendering='crispEdges';}
  });
}
crispLevels(); setTimeout(crispLevels,100);
"""
fig.write_html("out.html", config=dict(displayModeBar=False), post_script=crisp)
